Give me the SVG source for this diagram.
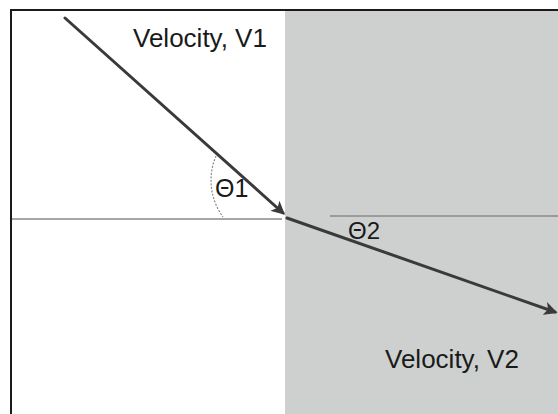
<svg xmlns="http://www.w3.org/2000/svg" width="558" height="414" viewBox="0 0 558 414">
<defs>
<style>
.lbl{font-family:"Liberation Sans",Arial,sans-serif;fill:#1a1a1a;}
.ray{stroke:#3a3a3a;stroke-width:3;fill:none;stroke-linecap:round;}
.normal{stroke:#8a8a8a;stroke-width:1.5;fill:none;}
.arc{stroke:#8a8a8a;stroke-width:1.2;fill:none;stroke-dasharray:2 1.5;}
</style>
<marker id="arr" viewBox="0 0 10 10" refX="8" refY="5" markerWidth="4.5" markerHeight="4.5" orient="auto" markerUnits="strokeWidth">
<path d="M0,0 L10,5 L0,10 L2.5,5 Z" fill="#3a3a3a"/>
</marker>
</defs>
<rect x="0" y="0" width="558" height="414" fill="#ffffff"/>
<g id="medium2">
<rect x="285" y="11" width="273" height="403" fill="#cdd0cf"/>
</g>
<g id="frame">
<line x1="10" y1="10" x2="558" y2="10" stroke="#1a1a1a" stroke-width="2"/>
<line x1="11" y1="10" x2="11" y2="414" stroke="#1a1a1a" stroke-width="2"/>
</g>
<g id="connectors">
<line class="normal" x1="12" y1="219" x2="282" y2="219"/>
<line class="normal" x1="330" y1="216" x2="558" y2="216"/>
<path class="arc" d="M216,156 A62,62 0 0 0 223,217"/>
<line class="ray" x1="65" y1="18" x2="283" y2="213" marker-end="url(#arr)"/>
<line class="ray" x1="287" y1="218" x2="555" y2="312" marker-end="url(#arr)"/>
</g>
<g id="label-v1">
<text class="lbl" x="133" y="47" font-size="26">Velocity, V1</text>
</g>
<g id="label-theta1">
<text class="lbl" x="215" y="197" font-size="25">Θ1</text>
</g>
<g id="label-theta2">
<text class="lbl" x="348" y="239" font-size="24">Θ2</text>
</g>
<g id="label-v2">
<text class="lbl" x="385" y="368" font-size="26">Velocity, V2</text>
</g>
</svg>
